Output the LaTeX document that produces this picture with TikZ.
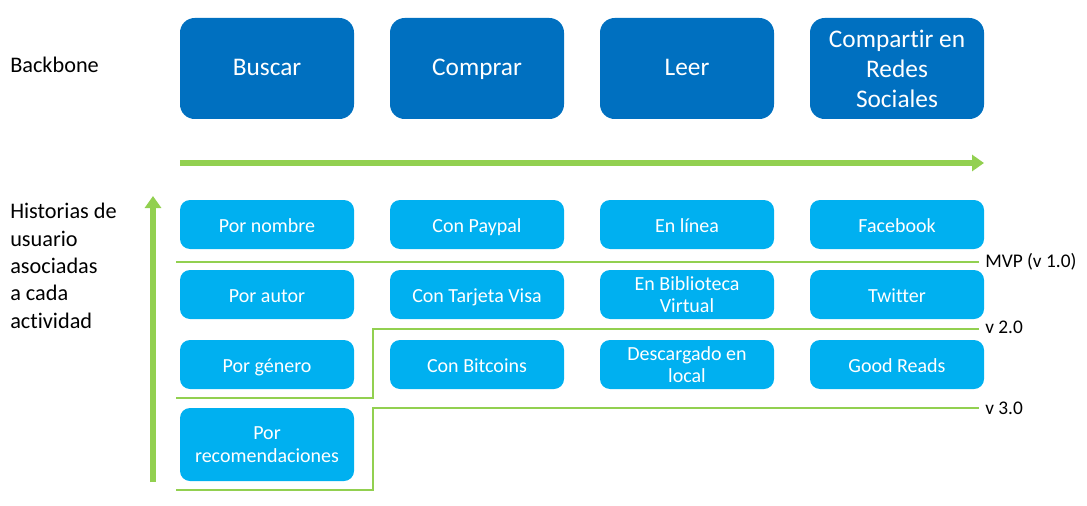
\documentclass[tikz,border=0pt]{standalone}
\usepackage{fontspec}
\setmainfont{Carlito}[Ligatures=NoCommon]
\usetikzlibrary{arrows.meta}
\definecolor{darkblue}{HTML}{0070C0}
\definecolor{lightblue}{HTML}{00B0F0}
\definecolor{lgreen}{HTML}{92D050}
\begin{document}
\begin{tikzpicture}[x=0.75pt,y=-0.75pt,
  backbox/.style={fill=darkblue,draw=none,rounded corners=11pt,minimum width=130.5pt,minimum height=75.75pt,inner sep=0pt,text=white,font=\fontsize{19}{22.5}\selectfont,align=center},
  storybox/.style={fill=lightblue,draw=none,rounded corners=7.5pt,minimum width=130.5pt,minimum height=36.75pt,inner sep=0pt,text=white,font=\fontsize{15}{17}\selectfont,align=center},
  oneline/.style={text height=12.5pt,text depth=1.2pt},
  onelinebig/.style={text height=14pt,text depth=3.3pt},
  bigarrow/.style={draw=lgreen,line width=4.5pt,-{Triangle[length=9pt,width=12pt]}},
  relline/.style={draw=lgreen,line width=2.2pt},
  rellabel/.style={anchor=west,inner sep=0pt,font=\fontsize{14.5}{17}\selectfont},
  sidelabel/.style={anchor=west,inner sep=0pt,align=left,font=\fontsize{16.7}{20.5}\selectfont}]
\useasboundingbox (0,0) rectangle (1087,506);
% side labels
\node[sidelabel] (bb) at (10,65) {Backbone};
\node[sidelabel,anchor=north west] (hist) at (10,203) {Historias de\\usuario\\asociadas\\a cada\\actividad};
% backbone
\node[backbox,onelinebig] (buscar) at (267,68.5) {Buscar};
\node[backbox,onelinebig] (comprar) at (477,68.5) {Comprar};
\node[backbox,onelinebig] (leer) at (687,68.5) {Leer};
\node[backbox] (compartir) at (897,68.5) {Compartir en\\Redes\\Sociales};
% arrows
\coordinate (hstart) at (180,163);
\coordinate (hend) at (984,163);
\draw[bigarrow] (hstart) -- (hend);
\coordinate (vstart) at (153,482);
\coordinate (vend) at (153,196);
\draw[bigarrow] (vstart) -- (vend);
% stories row 1
\node[storybox,oneline] (s11) at (267,224.5) {Por nombre};
\node[storybox,oneline] (s12) at (477,224.5) {Con Paypal};
\node[storybox,oneline] (s13) at (687,224.5) {En línea};
\node[storybox,oneline] (s14) at (897,224.5) {Facebook};
% row 2
\node[storybox,oneline] (s21) at (267,294.5) {Por autor};
\node[storybox,oneline] (s22) at (477,294.5) {Con Tarjeta Visa};
\node[storybox] (s23) at (687,294.5) {En Biblioteca\\Virtual};
\node[storybox,oneline] (s24) at (897,294.5) {Twitter};
% row 3
\node[storybox,oneline] (s31) at (267,364.5) {Por género};
\node[storybox,oneline] (s32) at (477,364.5) {Con Bitcoins};
\node[storybox] (s33) at (687,364.5) {Descargado en\\local};
\node[storybox,oneline] (s34) at (897,364.5) {Good Reads};
% row 4
\node[storybox,minimum height=54.75pt] (s41) at (267,444.5) {Por\\recomendaciones};
% release lines
\coordinate (m1) at (176,262);
\coordinate (m2) at (979,262);
\draw[relline] (m1) -- (m2);
\node[rellabel] (mvp) at (985,262) {MVP (v 1.0)};
\coordinate (a1) at (176,398);
\coordinate (a2) at (373,398);
\coordinate (a3) at (373,329);
\coordinate (a4) at (979,329);
\draw[relline] (a1) -- (a2) -- (a3) -- (a4);
\node[rellabel] (v2) at (985,327) {v 2.0};
\coordinate (b1) at (176,490);
\coordinate (b2) at (373,490);
\coordinate (b3) at (373,408);
\coordinate (b4) at (979,408);
\draw[relline] (b1) -- (b2) -- (b3) -- (b4);
\node[rellabel] (v3) at (985,408) {v 3.0};
\end{tikzpicture}
\end{document}
